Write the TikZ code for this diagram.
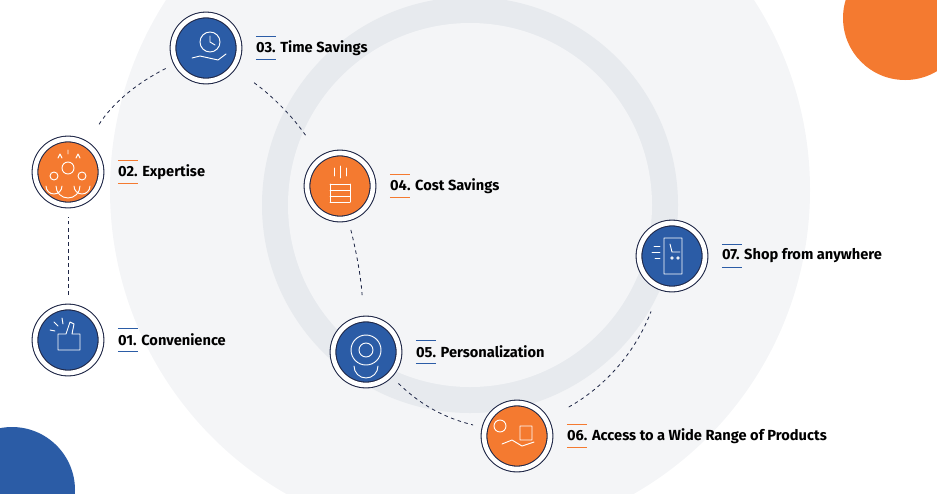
\documentclass[tikz,border=0pt]{standalone}
\usepackage{fontspec}
\setmainfont{Fira Sans}
\usetikzlibrary{positioning}
\definecolor{dotblue}{HTML}{2B5CA6}
\definecolor{dotorange}{HTML}{F47A30}
\definecolor{rimnavy}{HTML}{1F2747}
\definecolor{paleback}{HTML}{F4F5F7}
\definecolor{ringgray}{HTML}{E7EAEE}
\tikzset{
  rim/.style={circle, draw=rimnavy, line width=0.9pt, fill=#1, double=white, double distance=4pt, minimum size=66*0.03cm, inner sep=0pt},
  conn/.style={draw=rimnavy, dash pattern=on 3pt off 3pt, line width=0.7pt},
  lbl/.style={anchor=west, font=\bfseries\fontsize{12.5}{14}\selectfont, text=black, inner sep=1pt},
  ico/.style={draw=white, line width=0.8pt, line cap=round, line join=round}
}
\begin{document}
\begin{tikzpicture}[x=0.03cm, y=-0.03cm]
  \useasboundingbox (0,0) rectangle (937,493);
  \begin{scope}
    \clip (0,0) rectangle (937,493);
    \fill[paleback] (460,190) circle (350);
    \fill[ringgray] (470,205) circle (208);
    \fill[paleback] (470,205) circle (182);
    \fill[dotorange] (905,18) circle (62);
    \fill[dotblue] (12,490) circle (63);
  \end{scope}
  % steps
  \node[rim=dotblue] (c1) at (68,340) {};
  \node[rim=dotorange] (c2) at (68,172) {};
  \node[rim=dotblue] (c3) at (206,48) {};
  \node[rim=dotorange] (c4) at (340,186) {};
  \node[rim=dotblue] (c5) at (366,352) {};
  \node[rim=dotorange] (c6) at (517,436) {};
  \node[rim=dotblue] (c7) at (672,256) {};
  \node[lbl, right=13pt of c1] (t1) {01. Convenience};
  \node[lbl, right=13pt of c2] (t2) {02. Expertise};
  \node[lbl, right=13pt of c3] (t3) {03. Time Savings};
  \node[lbl, right=13pt of c4] (t4) {04. Cost Savings};
  \node[lbl, right=13pt of c5] (t5) {05. Personalization};
  \node[lbl, right=13pt of c6] (t6) {06. Access to a Wide Range of Products};
  \node[lbl, right=13pt of c7] (t7) {07. Shop from anywhere};
  \foreach \i/\col in {1/dotblue,2/dotorange,3/dotblue,4/dotorange,5/dotblue,6/dotorange,7/dotblue}{
    \draw[\col, line width=1pt] ([xshift=1pt, yshift=10pt]t\i.west) -- ++(17pt,0);
    \draw[\col, line width=1pt] ([xshift=1pt, yshift=-10pt]t\i.west) -- ++(17pt,0);
  }
  % dashed links
  \draw[conn, shorten <=10pt, shorten >=10pt] (c1) -- (c2);
  \draw[conn, shorten <=20pt, shorten >=10pt] (c2) to[bend left=15] (c3);
  \draw[conn, shorten <=22pt, shorten >=22pt] (c3) to[bend left=10] (c4);
  \draw[conn, shorten <=10pt, shorten >=20pt] (c4) to[bend left=5] (c5);
  \draw[conn, shorten <=10pt, shorten >=10pt] (c5) to[bend right=15] (c6);
  \draw[conn, shorten <=22pt, shorten >=22pt] (c6) to[bend right=20] (c7);
  % icons
  \draw[ico] (58,350) -- (58,334) -- (66,334) -- (70,322) -- (74,324) -- (72,334) -- (80,334) -- (80,350) -- cycle;
  \draw[ico] (54,322) -- (58,326) (62,318) -- (63,324) (50,330) -- (55,331);
  \draw[ico] (68,168) circle (6) (54,176) circle (4) (82,176) circle (4);
  \draw[ico] (56,186) arc (180:0:12) (46,186) arc (180:0:8) (74,186) arc (180:0:8);
  \draw[ico] (58,158) -- (60,154) -- (62,158) (68,154) -- (68,150) (76,158) -- (78,154) -- (80,158);
  \draw[ico] (210,42) circle (10) (210,36) -- (210,42) -- (215,45);
  \draw[ico] (192,58) -- (200,56) -- (218,60) -- (226,54);
  \draw[ico] (330,184) -- (350,184) (330,190) -- (350,190) (330,196) -- (350,196) (330,202) -- (350,202);
  \draw[ico] (330,184) -- (330,202) (350,184) -- (350,202) (334,168) -- (334,176) (340,166) -- (340,178) (346,168) -- (346,176);
  \draw[ico] (366,350) circle (7) (366,350) circle (15) (354,366) arc (180:0:12);
  \draw[ico] (520,426) rectangle (532,440) (500,426) circle (6) (502,444) -- (512,440) -- (522,446) -- (534,442);
  \draw[ico] (664,238) rectangle (682,274) (670,244) -- (672,252) -- (680,252) (672,258) circle (1.2) (678,258) circle (1.2);
  \draw[ico] (654,246) -- (660,246) (652,252) -- (660,252) (655,258) -- (660,258);
\end{tikzpicture}
\end{document}
